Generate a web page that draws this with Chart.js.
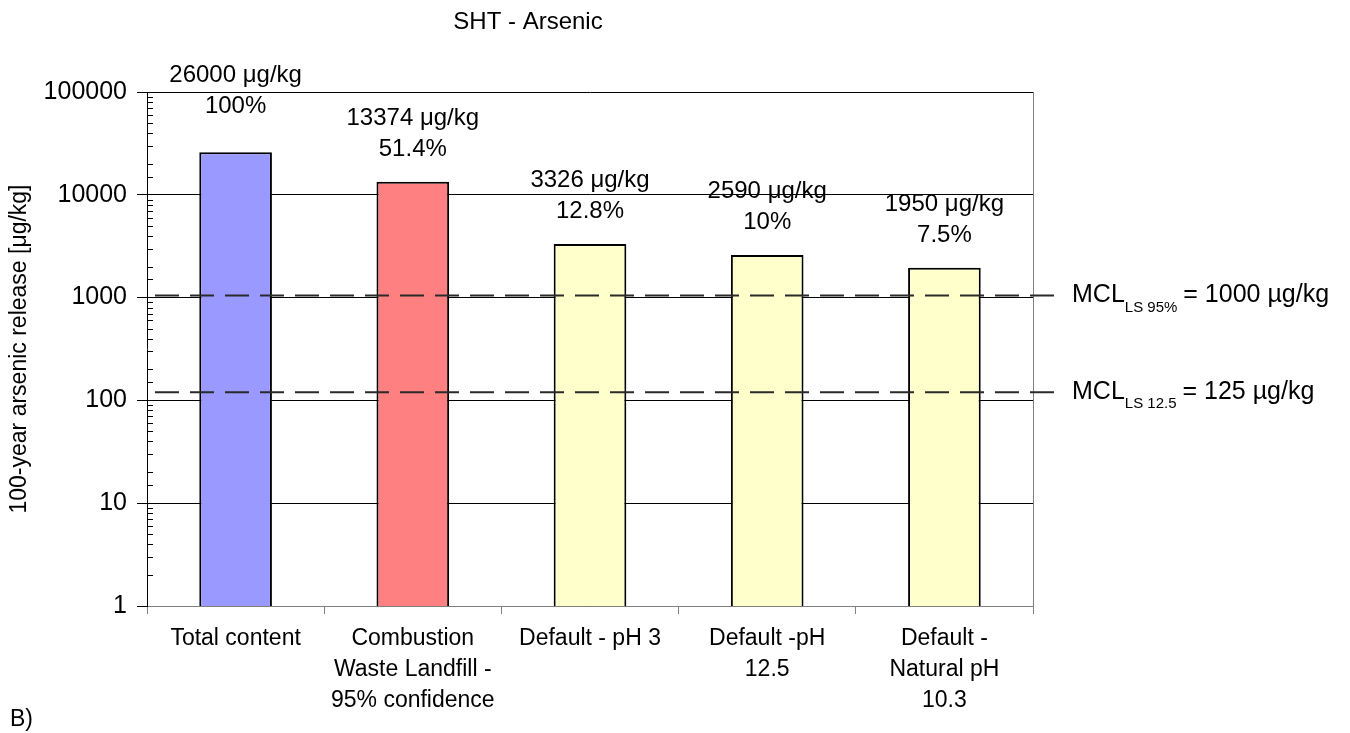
<!DOCTYPE html>
<html>
<head>
    <title>SHT - Arsenic</title>
    <script src="https://cdn.jsdelivr.net/npm/chart.js"></script>
    <style>
        body { margin: 0; background: #fff; }
        #wrap { width: 1350px; height: 733px; }
    </style>
</head>
<body>
<div id="wrap"><canvas id="arsenicChart" width="1350" height="733"></canvas></div>
<script>
    const categories = [
        'Total content',
        ['Combustion', 'Waste Landfill -', '95% confidence'],
        'Default - pH 3',
        ['Default -pH', '12.5'],
        ['Default -', 'Natural pH', '10.3']
    ];
    const releases = [26000, 13374, 3326, 2590, 1950];
    const percents = ['100%', '51.4%', '12.8%', '10%', '7.5%'];
    const barColors = ['#9999ff', '#ff8080', '#ffffcc', '#ffffcc', '#ffffcc'];
    const yTicks = [1, 10, 100, 1000, 10000, 100000];
    // MCL lines, levels
    const mclLevels = [1050, 120];
    const mclSubs = ['LS 95%', 'LS 12.5'];
    const mclTexts = ['= 1000 µg/kg', '= 125 µg/kg'];

    const FONT = '"Liberation Sans", Arial, sans-serif';
    const isMajor = v => yTicks.some(t => Math.abs(t - v) < 1e-6 * t);

    const extras = {
        id: 'extras',
        afterDatasetsDraw(chart) {
            const ctx = chart.ctx;
            const area = chart.chartArea;
            const y = chart.scales.y;
            ctx.save();

            // right border
            ctx.strokeStyle = '#808080';
            ctx.lineWidth = 1;
            ctx.beginPath();
            ctx.moveTo(area.right + 0.5, area.top);
            ctx.lineTo(area.right + 0.5, area.bottom);
            ctx.stroke();

            // minor ticks inside the left axis
            ctx.strokeStyle = '#000';
            y.ticks.forEach(t => {
                if (isMajor(t.value)) return;
                const py = Math.round(y.getPixelForValue(t.value)) + 0.5;
                ctx.beginPath();
                ctx.moveTo(area.left, py);
                ctx.lineTo(area.left + 6, py);
                ctx.stroke();
            });

            // value labels above bars (kept clear of the top border)
            ctx.fillStyle = '#000';
            ctx.font = '24px ' + FONT;
            ctx.textAlign = 'center';
            ctx.textBaseline = 'alphabetic';
            chart.getDatasetMeta(0).data.forEach((bar, i) => {
                let base = bar.y - 26;
                if (base - 31 > area.top - 10 && base - 31 - 18 < area.top) {
                    base = area.top - 10 + 31;
                }
                ctx.fillText(releases[i] + ' μg/kg', bar.x, base - 31);
                ctx.fillText(percents[i], bar.x, base);
            });

            // MCL dashed lines and labels
            ctx.strokeStyle = '#2a2a2a';
            ctx.lineWidth = 2;
            ctx.setLineDash([24, 11]);
            mclLevels.forEach((lv, i) => {
                const py = y.getPixelForValue(lv);
                ctx.beginPath();
                ctx.moveTo(area.left + 8, py);
                ctx.lineTo(area.right + 24, py);
                ctx.stroke();

                let x = area.right + 39;
                ctx.textAlign = 'left';
                ctx.textBaseline = 'middle';
                ctx.font = '25px ' + FONT;
                ctx.fillText('MCL', x, py);
                x += ctx.measureText('MCL').width;
                ctx.font = '15px ' + FONT;
                ctx.fillText(mclSubs[i], x, py + 12);
                x += ctx.measureText(mclSubs[i]).width + 6;
                ctx.font = '25px ' + FONT;
                ctx.fillText(mclTexts[i], x, py);
            });
            ctx.setLineDash([]);

            // title and panel letter
            ctx.font = '24px ' + FONT;
            ctx.textAlign = 'center';
            ctx.fillText('SHT - Arsenic', 528, 22);
            ctx.font = '23px ' + FONT;
            ctx.textAlign = 'left';
            ctx.fillText('B)', 10, 720);
            ctx.restore();
        }
    };

    const chart = new Chart(document.getElementById('arsenicChart'), {
        type: 'bar',
        data: {
            labels: categories,
            datasets: [{
                data: releases,
                backgroundColor: barColors,
                borderColor: '#000',
                borderWidth: 2,
                barPercentage: 1,
                categoryPercentage: 0.41
            }]
        },
        options: {
            responsive: false,
            animation: false,
            layout: { padding: { top: 92, right: 317, left: 0, bottom: 0 } },
            plugins: {
                legend: { display: false },
                tooltip: { enabled: false }
            },
            scales: {
                x: {
                    afterFit: s => { s.height = 127; },
                    grid: {
                        offset: true,
                        drawOnChartArea: false,
                        tickLength: 8,
                        color: '#808080'
                    },
                    border: { color: '#808080' },
                    ticks: {
                        color: '#000',
                        font: { family: FONT, size: 23, lineHeight: 1.35 },
                        padding: 9,
                        maxRotation: 0,
                        autoSkip: false
                    }
                },
                y: {
                    type: 'logarithmic',
                    min: 1,
                    max: 100000,
                    afterFit: s => { s.width = 147; },
                    border: { color: '#000' },
                    grid: {
                        color: c => isMajor(c.tick.value) ? '#000' : 'rgba(0,0,0,0)',
                        tickColor: c => isMajor(c.tick.value) ? '#000' : 'rgba(0,0,0,0)',
                        tickLength: 10
                    },
                    ticks: {
                        autoSkip: false,
                        color: '#000',
                        padding: 10,
                        font: { family: FONT, size: 25 },
                        callback: v => isMajor(v) ? String(v) : ''
                    },
                    title: {
                        display: true,
                        text: '100-year arsenic release [μg/kg]',
                        color: '#000',
                        font: { family: FONT, size: 23 },
                        padding: { top: 6, bottom: 0 }
                    }
                }
            }
        },
        plugins: [extras]
    });
</script>
</body>
</html>
